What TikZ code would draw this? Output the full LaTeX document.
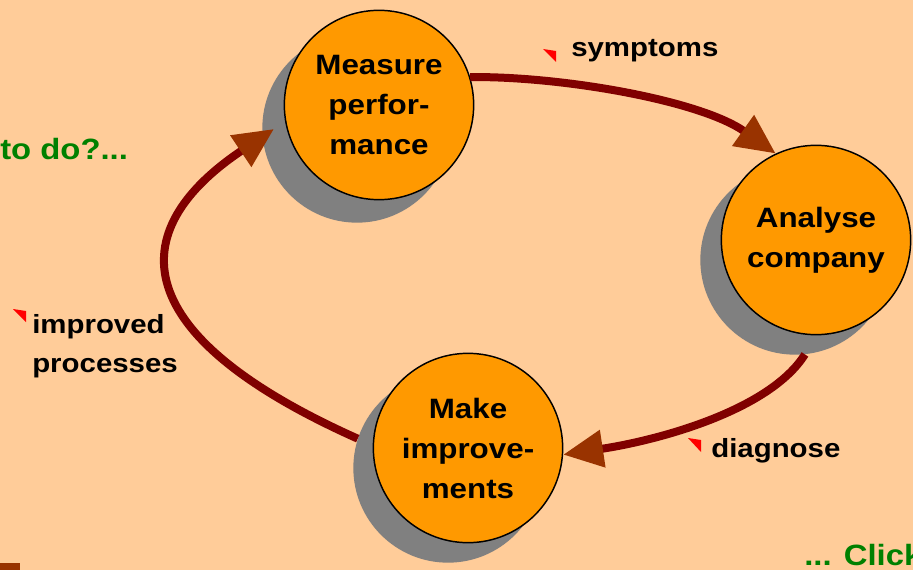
\documentclass[tikz,border=0pt]{standalone}
\usepackage{fontspec}
\setmainfont{Liberation Sans}[FakeStretch=1.12]
\usetikzlibrary{arrows.meta}
\definecolor{bg}{HTML}{FFCC99}
\definecolor{orng}{HTML}{FF9900}
\definecolor{shad}{HTML}{808080}
\definecolor{darkline}{HTML}{800000}
\definecolor{tipbrown}{HTML}{993300}
\definecolor{grn}{HTML}{008000}
\definecolor{flagred}{HTML}{FF0000}
\begin{document}
\begin{tikzpicture}[x=0.75pt,y=-0.75pt,
  disc/.style={circle,fill=orng,draw=black,line width=1.1pt,inner sep=0pt,
    minimum size=142pt,align=center,font=\fontsize{21}{30}\selectfont\bfseries},
  shadowdisc/.style={circle,fill=shad,inner sep=0pt,minimum size=142pt},
  flow/.style={line width=6pt,draw=darkline,
    -{Triangle[length=30pt,width=27pt,color=tipbrown]}},
  lbl/.style={inner sep=0pt,align=left,font=\fontsize{19.7}{29}\selectfont\bfseries},
  greentext/.style={inner sep=0pt,text=grn,font=\fontsize{22}{30}\selectfont\bfseries},
  flag/.style={fill=flagred}]
\useasboundingbox (0,0) rectangle (913,570);
\clip (0,0) rectangle (913,570);
\fill[bg] (0,0) rectangle (913,570);
\fill[tipbrown] (0,563) rectangle (20,570);

% shadows
\node[shadowdisc] (ms) at (357,128) {};
\node[shadowdisc] (as) at (795,260) {};
\node[shadowdisc] (mks) at (448,468) {};

% circles
\path (379,105) coordinate (mc) (816,240) coordinate (ac) (468,448) coordinate (mkc);
\node[disc] (m) at (mc) {Measure\\perfor-\\mance};
\node[disc] (a) at (ac) {Analyse\\company};
\node[disc] (mk) at (mkc) {Make\\improve-\\ments};

% connectors
\draw[flow] (m.17) .. controls (560,76) and (700,100) .. (a.115);
\draw[flow] (as.-84) .. controls (770,410) and (660,440) .. (mk.-4);
\draw[flow,shorten >=10pt] (mks.162) .. controls (128,336) and (120,232) .. (m.190);

% labels
\fill[flag] (543,49) -- (556,51) -- (556,62) -- cycle;
\node[lbl,anchor=base west] (symp) at (571,57) {symptoms};
\fill[flag] (688,438) -- (701,440) -- (701,452) -- cycle;
\node[lbl,anchor=base west] (diag) at (711,457) {diagnose};
\fill[flag] (13,309) -- (26,311) -- (26,322) -- cycle;
\node[lbl,anchor=base west] (impr) at (32,333) {improved};
\node[lbl,anchor=base west] (proc) at (32,372) {processes};

\node[greentext,anchor=base west] (todo) at (0,160) {to do?...};
\node[greentext,anchor=base west] (click) at (804,565) {... Click};
\end{tikzpicture}
\end{document}
